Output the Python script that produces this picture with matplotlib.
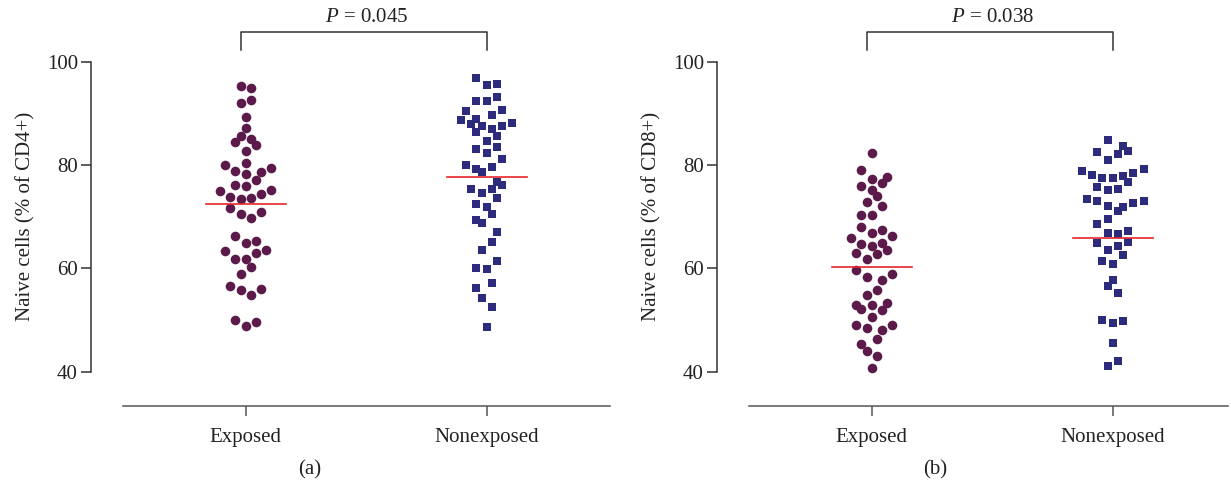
import matplotlib
matplotlib.use("Agg")
from matplotlib import pyplot as plt

plt.rcParams['font.family'] = ['Liberation Serif', 'DejaVu Serif']
plt.rcParams['mathtext.fontset'] = 'custom'
plt.rcParams['mathtext.it'] = 'Liberation Serif:italic'
plt.rcParams['mathtext.rm'] = 'Liberation Serif'

groups = ['Exposed', 'Nonexposed']

# panel (a): naive cells, % of CD4+
cd4_exposed = [95.35, 95.0, 92.0, 92.5, 89.3, 87.2, 85.7, 84.5, 85.0, 83.9, 82.8,
               80.1, 80.4, 79.4, 78.9, 78.3, 78.7, 77.1, 76.1, 75.9, 74.9, 75.2,
               73.9, 73.4, 73.7, 74.4, 71.7, 70.6, 69.8, 71.0, 66.2, 64.9, 65.3,
               63.4, 63.6, 61.9, 61.8, 62.9, 60.2, 59.0, 56.5, 55.9, 54.9, 56.0,
               50.0, 48.8, 49.7]
cd4_exposed_col = [-1, 1, -1, 1, 0, 0, -1, -2, 1, 2, 0, -4, 0, 5, -2, 0, 3, 2, -2, 0,
                   -5, 5, -3, -1, 1, 3, -3, -1, 1, 3, -2, 0, 2, -4, 4, -2, 0, 2, 1, -1,
                   -3, -1, 1, 3, -2, 0, 2]
cd4_nonexposed = [96.9, 95.5, 95.7, 93.2, 92.3, 92.3, 90.5, 90.7, 88.8, 89.0, 89.6,
                  88.0, 87.5, 86.9, 87.5, 88.1, 86.3, 85.7, 84.6, 83.1, 82.4, 83.5,
                  80.1, 81.1, 79.3, 78.7, 79.7, 76.8, 76.2, 75.4, 74.6, 75.4, 73.7,
                  72.5, 71.8, 70.5, 69.3, 68.8, 67.0, 65.2, 63.6, 61.5, 60.1, 59.8,
                  57.1, 56.2, 54.2, 52.6, 48.7]
cd4_nonexposed_col = [-2, 0, 2, 2, -2, 0, -4, 3, -5, -2, 1, -3, -1, 1, 3, 5, -2, 2, 0,
                      -2, 0, 2, -4, 3, -2, -1, 1, 2, 3, -3, -1, 1, 2, -2, 0, 1, -2, -1,
                      2, 1, -1, 2, -2, 0, 1, -2, -1, 1, 0]
cd4_medians = [72.45, 77.7]
cd4_p = '0.045'

# panel (b): naive cells, % of CD8+
cd8_exposed = [82.3, 79.0, 77.2, 77.7, 76.5, 76.0, 75.2, 74.0, 72.9, 72.1, 70.4,
               70.4, 68.1, 66.9, 67.4, 65.9, 66.3, 64.8, 64.3, 65.0, 63.0, 62.7,
               63.6, 61.9, 59.6, 58.3, 57.7, 59.0, 55.8, 54.8, 52.9, 52.1, 52.9,
               53.3, 51.9, 50.6, 49.0, 48.5, 48.0, 49.0, 46.3, 45.3, 44.0, 43.0,
               40.7]
cd8_exposed_col = [0, -2, 0, 3, 2, -2, 0, 1, -1, 2, -2, 0, -2, 0, 2, -4, 4, -2, 0, 2,
                   -3, 1, 3, -1, -3, -1, 2, 4, 1, -1, -3, -2, 0, 3, 2, 0, -3, -1, 2, 4,
                   1, -2, -1, 1, 0]
cd8_nonexposed = [84.9, 83.6, 82.5, 82.2, 82.7, 81.0, 78.8, 78.1, 77.5, 77.4, 77.8,
                  78.5, 79.3, 76.7, 75.8, 75.2, 75.4, 73.5, 73.0, 72.1, 71.9, 71.2,
                  72.7, 73.1, 69.6, 68.5, 66.8, 66.7, 67.3, 65.0, 64.4, 65.2, 63.6,
                  62.6, 61.5, 60.8, 57.7, 56.6, 55.2, 50.0, 49.5, 49.8, 45.5, 41.1,
                  42.1]
cd8_nonexposed_col = [-1, 2, -3, 1, 3, -1, -6, -4, -2, 0, 2, 4, 6, 3, -3, -1, 1, -5, -3,
                      -1, 2, 1, 4, 6, -1, -3, -1, 1, 3, -3, 1, 3, -1, 2, -2, 0, 0, -1,
                      1, -2, 0, 2, 0, -1, 1]
cd8_medians = [60.2, 65.9]
cd8_p = '0.038'

W, H = 1231, 487
fig = plt.figure(figsize=(W / 100, H / 100), dpi=100)

step = 0.0214          # swarm column spacing in x data units
px = 241.0             # pixels per x data unit
dot_c = '#5b1a4a'
sq_c = '#2d2b7b'


def panel(left_px, exp, exp_col, non, non_col, medians, pval, ylab, right_bound):
    ax = fig.add_axes([left_px / W, (H - 371.7) / H, 525 / W, 310 / H])
    ax.set_ylim(40, 100)
    x0 = -155 / px
    ax.set_xlim(x0, x0 + 525 / px)

    ax.scatter([0 + c * step for c in exp_col], exp, s=48, marker='o',
               color=dot_c, linewidths=0, zorder=3, clip_on=False)
    ax.scatter([1 + c * step for c in non_col], non, s=38, marker='s',
               color=sq_c, linewidths=0, zorder=3, clip_on=False)
    for i, m in enumerate(medians):
        ax.plot([i - 0.166, i + 0.166], [m, m], color='#e8262a', lw=1.2, zorder=4)

    for s in ['top', 'right']:
        ax.spines[s].set_visible(False)
    ax.spines['left'].set_linewidth(1.1)
    ax.spines['bottom'].set_linewidth(1.1)
    ax.spines['left'].set_color('#333333')
    ax.spines['bottom'].set_color('#555555')
    ax.spines['bottom'].set_position(('outward', 25))
    ax.spines['bottom'].set_bounds(-123 / px, right_bound)

    ax.set_yticks([40, 60, 80, 100])
    ax.set_xticks([0, 1])
    ax.set_xticklabels(groups)
    ax.tick_params(axis='y', length=7.2, width=1.1, pad=2, labelsize=15, colors='#333333')
    ax.tick_params(axis='x', length=7.2, width=1.1, pad=8, labelsize=15, colors='#555555')
    for t in ax.get_xticklabels() + ax.get_yticklabels():
        t.set_color('#222222')
    ax.set_ylabel(ylab, fontsize=15, labelpad=8, color='#222222')

    # significance bracket
    ax.plot([-0.02, -0.02, 1, 1], [102.3, 105.8, 105.8, 102.3], color='#333333', lw=1.1,
            clip_on=False)
    ax.text(0.5, 108.6, r'$P$ = ' + pval, ha='center', va='center', fontsize=15,
            color='#222222')
    return ax


a = panel(90.7, cd4_exposed, cd4_exposed_col, cd4_nonexposed, cd4_nonexposed_col,
          cd4_medians, cd4_p, 'Naive cells (% of CD4+)', (610 - 245.7) / px)
b = panel(716.7, cd8_exposed, cd8_exposed_col, cd8_nonexposed, cd8_nonexposed_col,
          cd8_medians, cd8_p, 'Naive cells (% of CD8+)', (1228 - 871.7) / px)

fig.text(310 / W, 1 - 470 / H, '(a)', ha='center', va='center', fontsize=15, color='#222222')
fig.text(935 / W, 1 - 470 / H, '(b)', ha='center', va='center', fontsize=15, color='#222222')

fig.savefig('out.png', dpi=100)
